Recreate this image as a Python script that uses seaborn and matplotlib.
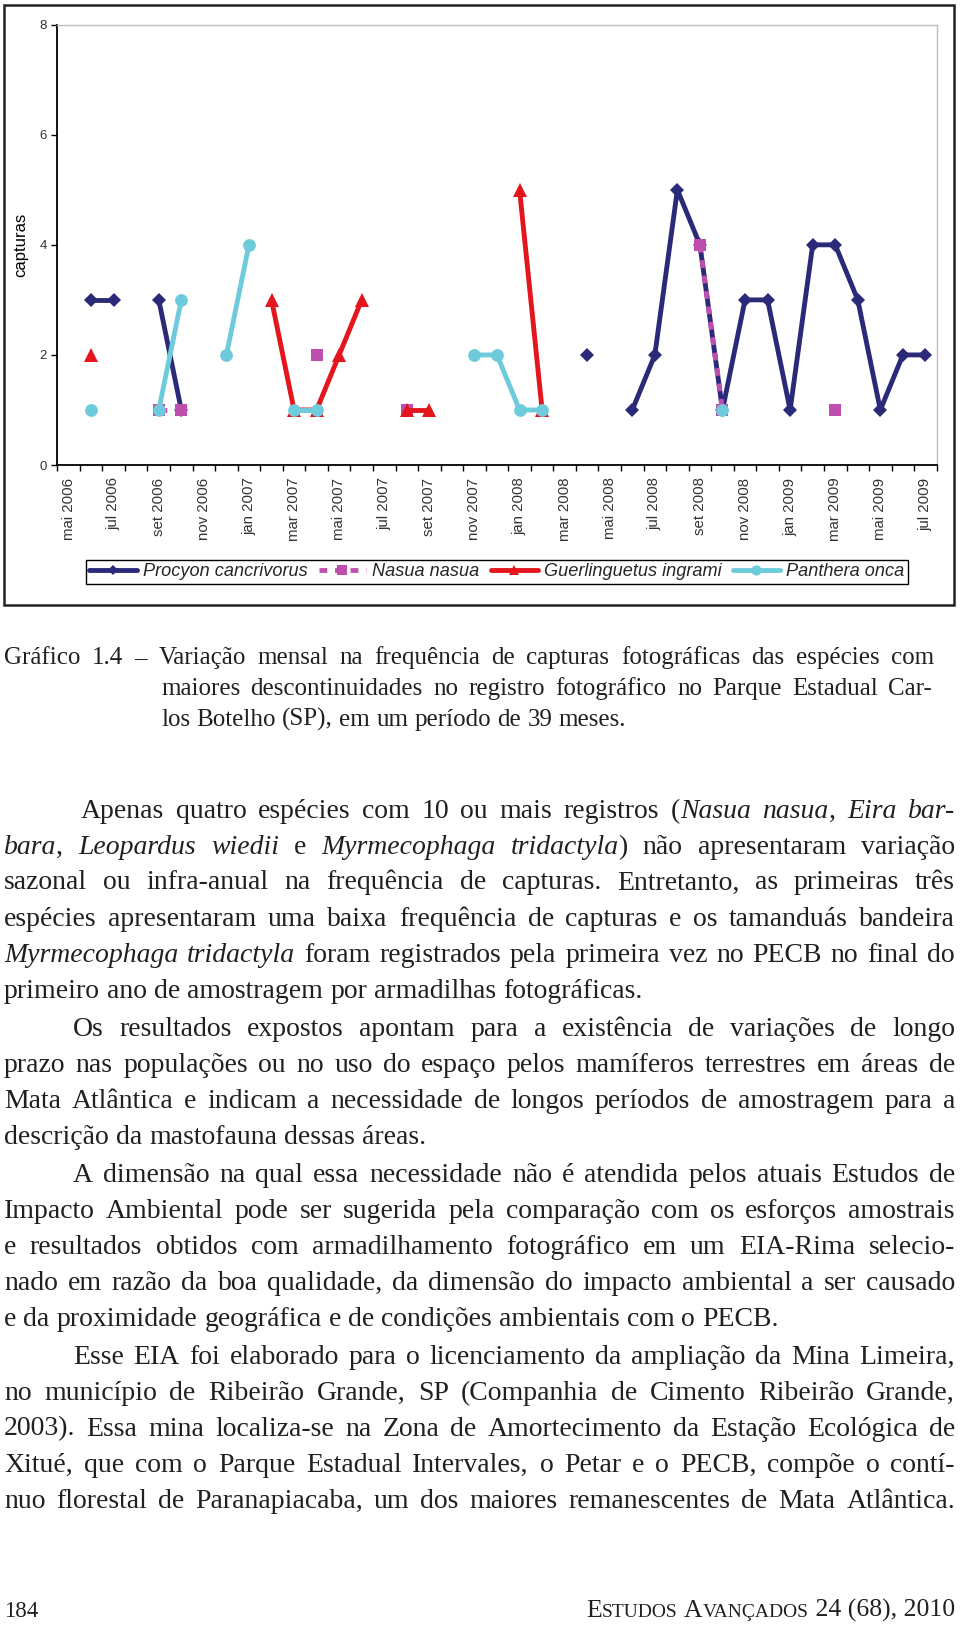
import numpy as np
import pandas as pd
import matplotlib
matplotlib.use("Agg")
import matplotlib.pyplot as plt
import seaborn as sns
from matplotlib.lines import Line2D
from matplotlib.patches import Rectangle

# ---------------- data (39 months, mai 2006 .. jul 2009) ----------------
N = None
month_labels = ["mai 2006", "jul 2006", "set 2006", "nov 2006", "jan 2007",
                "mar 2007", "mai 2007", "jul 2007", "set 2007", "nov 2007",
                "jan 2008", "mar 2008", "mai 2008", "jul 2008", "set 2008",
                "nov 2008", "jan 2009", "mar 2009", "mai 2009", "jul 2009"]

procyon = [N, 3, 3, N, 3, 1, N, N, N, N,
           N, N, N, N, N, N, N, N, N, N,
           N, N, N, 2, N, 1, 2, 5, 4, 1,
           3, 3, 1, 4, 4, 3, 1, 2, 2]
nasua = [N, N, N, N, 1, 1, N, N, N, N,
         N, 2, N, N, N, 1, N, N, N, N,
         N, N, N, N, N, N, N, N, 4, 1,
         N, N, N, N, 1, N, N, N, N]
guerlinguetus = [N, 2, N, N, N, N, N, N, N, 3,
                 1, 1, 2, 3, N, 1, 1, N, N, N,
                 5, 1, N, N, N, N, N, N, N, N,
                 N, N, N, N, N, N, N, N, N]
panthera = [N, 1, N, N, 1, 3, N, 2, 4, N,
            1, 1, N, N, N, N, N, N, 2, 2,
            1, 1, N, N, N, N, N, N, N, 1,
            N, N, N, N, N, N, N, N, N]

species = ["Procyon cancrivorus", "Nasua nasua", "Guerlinguetus ingrami", "Panthera onca"]
values = [procyon, nasua, guerlinguetus, panthera]
colors = ["#2b2a78", "#bf4fae", "#e3151d", "#6ecbdc"]
markers = ["D", "s", "^", "o"]
msizes = [7.0, 8.6, 9.4, 9.2]
lstyles = ["-", (0, (1.6, 1.6)), "-", "-"]

# ---------------- figure ----------------
W, H = 960, 1627
sns.set_theme(style="white")
plt.rcParams["font.family"] = ["Liberation Sans", "DejaVu Sans"]
fig = plt.figure(figsize=(W / 100, H / 100), dpi=100, facecolor="white")

ax_l, ax_r, ax_t, ax_b = 57.3, 936.7, 24.7, 465.0
ax = fig.add_axes([ax_l / W, 1 - ax_b / H, (ax_r - ax_l) / W, (ax_b - ax_t) / H])
ax.set_facecolor("white")


def to_frame(vals):
    rows, seg, prev = [], 0, False
    for i, v in enumerate(vals):
        if v is None:
            if prev:
                seg += 1
            prev = False
            continue
        rows.append((i, v, seg))
        prev = True
    return pd.DataFrame(rows, columns=["mes", "capturas", "seg"])


for name, vals, c, m, ms, ls in zip(species, values, colors, markers, msizes, lstyles):
    df = to_frame(vals)
    sns.lineplot(data=df, x="mes", y="capturas", units="seg", estimator=None,
                 sort=False, color=c, marker=m, markersize=ms, linewidth=3.5,
                 linestyle=ls, markeredgecolor=c, markeredgewidth=0,
                 legend=False, ax=ax)

ax.set_xlim(-0.5, 38.5)
ax.set_ylim(0, 8)
ax.set_xlabel("")
ax.set_ylabel("capturas", fontsize=12, color="black")
ax.yaxis.set_label_coords(-0.033, 0.5)

ax.set_xticks(np.arange(-0.5, 39, 1))
ax.set_xticklabels([])
ax.set_xticks(np.arange(0, 39, 2), minor=True)
ax.set_xticklabels(month_labels, minor=True, rotation=90, fontsize=10.8,
                   color="#333333", va="top", ha="center")
ax.tick_params(axis="x", which="major", bottom=True, length=4.5, width=1,
               direction="out", color="black")
ax.tick_params(axis="x", which="minor", bottom=True, length=0, pad=9)
ax.set_yticks([0, 2, 4, 6, 8])
ax.set_yticklabels(["0", "2", "4", "6", "8"], fontsize=9.5, color="#333333")
ax.tick_params(axis="y", left=True, length=4, width=1, direction="out",
               color="black", pad=3.5)

for s in ["left", "bottom"]:
    ax.spines[s].set_color("black")
    ax.spines[s].set_linewidth(1.3)
for s in ["top", "right"]:
    ax.spines[s].set_color("#bdbdbd")
    ax.spines[s].set_linewidth(1.0)

# legend
handles = [Line2D([], [], color=c, marker=m, markersize=ms * 0.8, linewidth=3.5,
                  linestyle=ls, markeredgecolor=c, markeredgewidth=0)
           for c, m, ms, ls in zip(colors, markers, msizes, lstyles)]
leg = fig.legend(handles, species, loc="center",
                 bbox_to_anchor=(497 / W, 1 - 572 / H), ncol=4, frameon=True,
                 fancybox=False, edgecolor="black", framealpha=1,
                 prop=dict(family="Liberation Sans", style="italic", size=13.1),
                 handlelength=2.6, handletextpad=0.35, columnspacing=0.6,
                 borderpad=0.2, borderaxespad=0)
leg.get_frame().set_linewidth(1.0)

# chart frame
fig.patches.append(Rectangle((4 / W, 1 - 605 / H), 950 / W, 600 / H,
                             transform=fig.transFigure, fill=False,
                             linewidth=1.8, edgecolor="#222222"))

# ---------------- page text ----------------
renderer = fig.canvas.get_renderer()
TXT = "#231f20"
SERIF = "Liberation Serif"


def run_width(s, size, style, family=SERIF):
    t = fig.text(0, 0, s, fontsize=size, family=family, style=style)
    w = t.get_window_extent(renderer).width
    t.remove()
    return w


def parse(markup):
    words, runs, buf, italic = [], [], "", False
    for ch in markup:
        if ch == "_":
            if buf:
                runs.append((buf, "italic" if italic else "normal"))
            buf = ""
            italic = not italic
        elif ch == " ":
            if buf:
                runs.append((buf, "italic" if italic else "normal"))
            buf = ""
            if runs:
                words.append(runs)
            runs = []
        else:
            buf += ch
    if buf:
        runs.append((buf, "italic" if italic else "normal"))
    if runs:
        words.append(runs)
    return words


def draw_line(markup, x0, x1, base, size, justify):
    words = parse(markup)
    widths = [[run_width(t, size, st) for t, st in w] for w in words]
    total = sum(sum(ws) for ws in widths)
    space = run_width("a a", size, "normal") - run_width("aa", size, "normal")
    if justify and len(words) > 1:
        gap = (x1 - x0 - total) / (len(words) - 1)
    else:
        gap = space
    x = x0
    for w, ws in zip(words, widths):
        for (t, st), rw in zip(w, ws):
            fig.text(x / W, 1 - base / H, t, fontsize=size, family=SERIF,
                     style=st, va="baseline", ha="left", color=TXT)
            x += rw
        x += gap


CAP = 18.0
caption = [
    ("Gráfico 1.4 – Variação mensal na frequência de capturas fotográficas das espécies com", 4, 934, 664, True),
    ("maiores descontinuidades no registro fotográfico no Parque Estadual Car-", 161, 932, 695, True),
    ("los Botelho (SP), em um período de 39 meses.", 161, 932, 726, False),
]
for txt, x0, x1, b, j in caption:
    draw_line(txt, x0, x1, b, CAP, j)

BODY = 20.0
L, R = 4, 955
paragraphs = [
    [("Apenas quatro espécies com 10 ou mais registros (_Nasua nasua_, _Eira bar-_", 81, 818),
     ("_bara_, _Leopardus wiedii_ e _Myrmecophaga tridactyla_) não apresentaram variação", L, 854),
     ("sazonal ou infra-anual na frequência de capturas. Entretanto, as primeiras três", L, 889.5),
     ("espécies apresentaram uma baixa frequência de capturas e os tamanduás bandeira", L, 926),
     ("_Myrmecophaga tridactyla_ foram registrados pela primeira vez no PECB no final do", L, 961.5),
     ("primeiro ano de amostragem por armadilhas fotográficas.", L, 997.5)],
    [("Os resultados expostos apontam para a existência de variações de longo", 73, 1036.5),
     ("prazo nas populações ou no uso do espaço pelos mamíferos terrestres em áreas de", L, 1072.5),
     ("Mata Atlântica e indicam a necessidade de longos períodos de amostragem para a", L, 1108.5),
     ("descrição da mastofauna dessas áreas.", L, 1143.5)],
    [("A dimensão na qual essa necessidade não é atendida pelos atuais Estudos de", 73, 1182.5),
     ("Impacto Ambiental pode ser sugerida pela comparação com os esforços amostrais", L, 1218.5),
     ("e resultados obtidos com armadilhamento fotográfico em um EIA-Rima selecio-", L, 1253.5),
     ("nado em razão da boa qualidade, da dimensão do impacto ambiental a ser causado", L, 1290),
     ("e da proximidade geográfica e de condições ambientais com o PECB.", L, 1325.5)],
    [("Esse EIA foi elaborado para o licenciamento da ampliação da Mina Limeira,", 73, 1363.5),
     ("no município de Ribeirão Grande, SP (Companhia de Cimento Ribeirão Grande,", L, 1400),
     ("2003). Essa mina localiza-se na Zona de Amortecimento da Estação Ecológica de", L, 1435.5),
     ("Xitué, que com o Parque Estadual Intervales, o Petar e o PECB, compõe o contí-", L, 1471.5),
     ("nuo florestal de Paranapiacaba, um dos maiores remanescentes de Mata Atlântica.", L, 1507.5)],
]
for para in paragraphs:
    for k, (txt, x0, b) in enumerate(para):
        last = (k == len(para) - 1) and not txt.endswith("Atlântica.")
        draw_line(txt, x0, R, b, BODY, not last)

# footer
fig.text(4 / W, 1 - 1617 / H, "184", fontsize=16.5, family=SERIF, color=TXT,
         va="baseline", ha="left")
footer_runs = [("E", 18.5), ("STUDOS", 14.0), (" ", 18.5), ("A", 18.5),
               ("VANÇADOS", 14.0), (" 24 (68), 2010", 18.5)]
fw = [run_width(t.replace(" ", "\u00a0"), s, "normal") for t, s in footer_runs]
x = 955 - sum(fw)
for (t, s), w in zip(footer_runs, fw):
    fig.text(x / W, 1 - 1617 / H, t.replace(" ", "\u00a0"), fontsize=s,
             family=SERIF, color=TXT, va="baseline", ha="left")
    x += w

fig.savefig("out.png", dpi=100, facecolor="white")
